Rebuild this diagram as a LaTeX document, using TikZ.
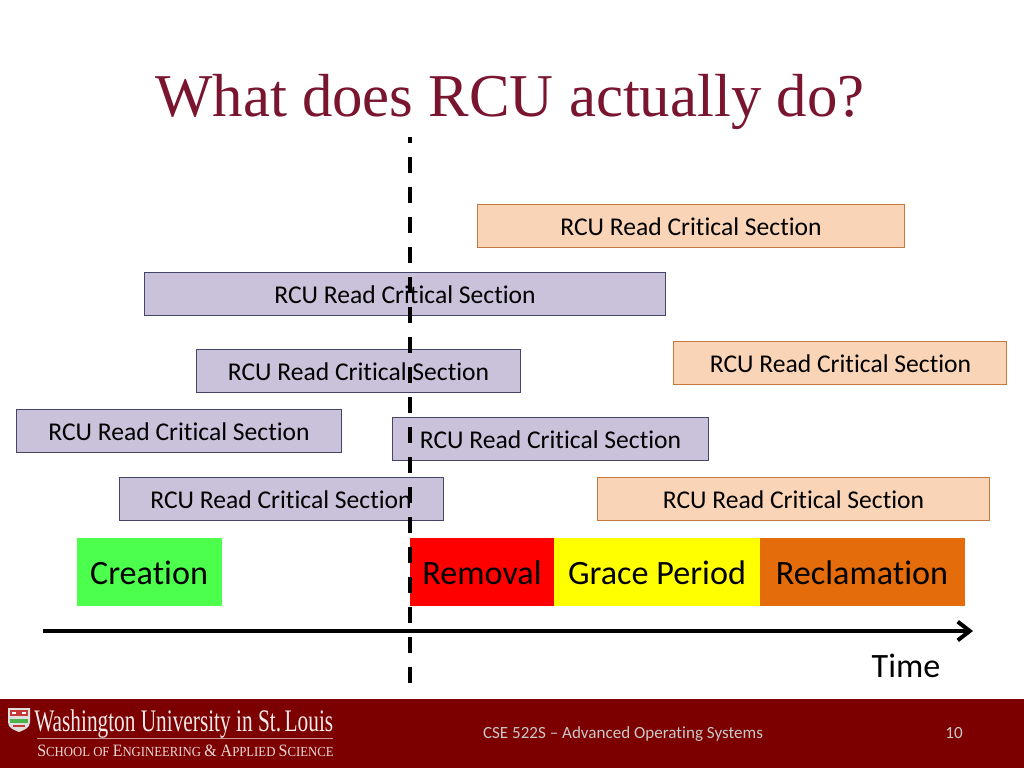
\documentclass[tikz,border=0pt]{standalone}
\usepackage{fontspec}
\setmainfont[Ligatures=NoCommon]{Carlito}
\newfontfamily\serifface{Liberation Serif}
\usetikzlibrary{arrows.meta}
\definecolor{titlered}{HTML}{7A1530}
\definecolor{banner}{HTML}{7C0000}
\definecolor{purplefill}{HTML}{CAC2DA}
\definecolor{purpleline}{HTML}{45456A}
\definecolor{orangefill}{HTML}{FAD4B6}
\definecolor{orangeline}{HTML}{C4773F}
\definecolor{creategreen}{HTML}{4DFF4D}
\definecolor{reclaim}{HTML}{E46C0A}
\definecolor{footgray}{HTML}{C8C8C8}
\definecolor{phaseyellow}{HTML}{FFFF00}
\definecolor{phasered}{HTML}{FF0000}
\tikzset{
  x=0.75pt,y=-0.75pt,
  rcubox/.style={draw=purpleline,fill=purplefill,line width=0.7pt,minimum width=#1*0.75pt,minimum height=32.2pt,inner sep=0pt,text=black},
  rcuorange/.style={draw=orangeline,fill=orangefill,line width=0.7pt,minimum width=#1*0.75pt,minimum height=32.2pt,inner sep=0pt,text=black},
  rcutext/.style={font=\fontsize{19.2}{21}\selectfont,text=black,inner sep=0pt,anchor=base},
  phasebox/.style={minimum height=51pt,inner sep=0pt,text=black},
  phasetext/.style={inner sep=0pt,text=black,anchor=base,font=\fontsize{25.6}{28}\selectfont},
  plain/.style={inner sep=0pt,text=black},
}
\begin{document}
\begin{tikzpicture}
\useasboundingbox (0,0) rectangle (1024,768);
\fill[white] (0,0) rectangle (1024,768);
% footer band
\fill[banner] (0,699) rectangle (1024,768);
\node[plain,text=titlered,font=\serifface\fontsize{45.6}{50}\selectfont,anchor=base west] (title) at (155,116) {What does RCU actually do?};
% boxes
\node[rcuorange=427] (o1) at (691,226) {};
\node[rcubox=521] (p1) at (405,294.2) {};
\node[rcuorange=333] (o2) at (840.3,362.7) {};
\node[rcubox=324.5] (p2) at (358.3,371) {};
\node[rcubox=324.5] (p3) at (178.8,431) {};
\node[rcubox=316] (p4) at (550.3,439.2) {};
\node[rcubox=324.5] (p5) at (281.3,499) {};
\node[rcuorange=392.5] (o3) at (793.3,499) {};
% phase boxes
\node[phasebox,fill=creategreen,minimum width=108.75pt] (creation) at (149,572) {};
\node[phasebox,fill=phasered,minimum width=108pt] (removal) at (482,572) {};
\node[phasebox,fill=phaseyellow,minimum width=154.5pt] (grace) at (657,572) {};
\node[phasebox,fill=reclaim,minimum width=153.75pt] (reclamation) at (862,572) {};
% time axis
\coordinate (axisstart) at (43,631);
\coordinate (axisend) at (973,631);
\draw[line width=3pt,-{Straight Barb[length=9pt,width=14pt,line width=3pt]}] (axisstart) -- (axisend);
% dashed line
\coordinate (dashtop) at (410,137);
\coordinate (dashbot) at (410,683);
\draw[line width=3pt,dash pattern=on 12.2pt off 10.3pt,dash phase=7.5pt] (dashtop) -- (dashbot);
% texts
\node[rcutext] (to1) at (691,235) {RCU Read Critical Section};
\node[rcutext] (tp1) at (405,303) {RCU Read Critical Section};
\node[rcutext] (to2) at (840.5,372) {RCU Read Critical Section};
\node[rcutext] (tp2) at (358.5,380) {RCU Read Critical Section};
\node[rcutext] (tp3) at (179,440) {RCU Read Critical Section};
\node[rcutext] (tp4) at (550.5,448.5) {RCU Read Critical Section};
\node[rcutext] (tp5) at (281,508) {RCU Read Critical Section};
\node[rcutext] (to3) at (793.5,508) {RCU Read Critical Section};
\node[phasetext] (tc) at (149,584) {Creation};
\node[phasetext] (tr) at (482,584) {Removal};
\node[phasetext] (tg) at (657,584) {Grace Period};
\node[phasetext] (tm) at (862,584) {Reclamation};
\node[phasetext] (time) at (906,677) {Time};
% footer text
\node[plain,text=footgray,font=\fontsize{12.8}{15}\selectfont,anchor=base] (course) at (623,738) {CSE 522S – Advanced Operating Systems};
\node[plain,text=footgray,font=\fontsize{12.8}{15}\selectfont,anchor=base] (pageno) at (954,738) {10};
% logo crest
\fill[white!75!gray] (8,708) -- (30,708) -- (30,722) .. controls (30,728) and (24,730) .. (19,732) .. controls (14,730) and (8,728) .. (8,722) -- cycle;
\fill[red!55!gray] (10,710) rectangle (28,716);
\fill[white] (12,712) rectangle (16,714);
\fill[white] (22,712) rectangle (26,714);
\fill[green!40!gray] (10,719) rectangle (28,723);
\fill[red!55!gray] (13,725) rectangle (25,727);
% logo text
\node[plain,text=white!92!banner,font=\serifface\fontsize{23.5}{26}\selectfont,anchor=base west] (wu) at (34,731) {\scalebox{0.68}[1]{Washington University in St.\,Louis}};
\draw[white!60!banner,line width=0.4pt] (37,738) -- (333,738);
\node[plain,text=white!85!banner,font=\serifface\fontsize{13}{15}\selectfont,anchor=base west] (sch) at (37,756) {\scalebox{0.92}[1]{S\fontsize{10.4}{12}\selectfont CHOOL OF \fontsize{13}{15}\selectfont E\fontsize{10.4}{12}\selectfont NGINEERING \fontsize{13}{15}\selectfont \& A\fontsize{10.4}{12}\selectfont PPLIED \fontsize{13}{15}\selectfont S\fontsize{10.4}{12}\selectfont CIENCE}};
\end{tikzpicture}
\end{document}
